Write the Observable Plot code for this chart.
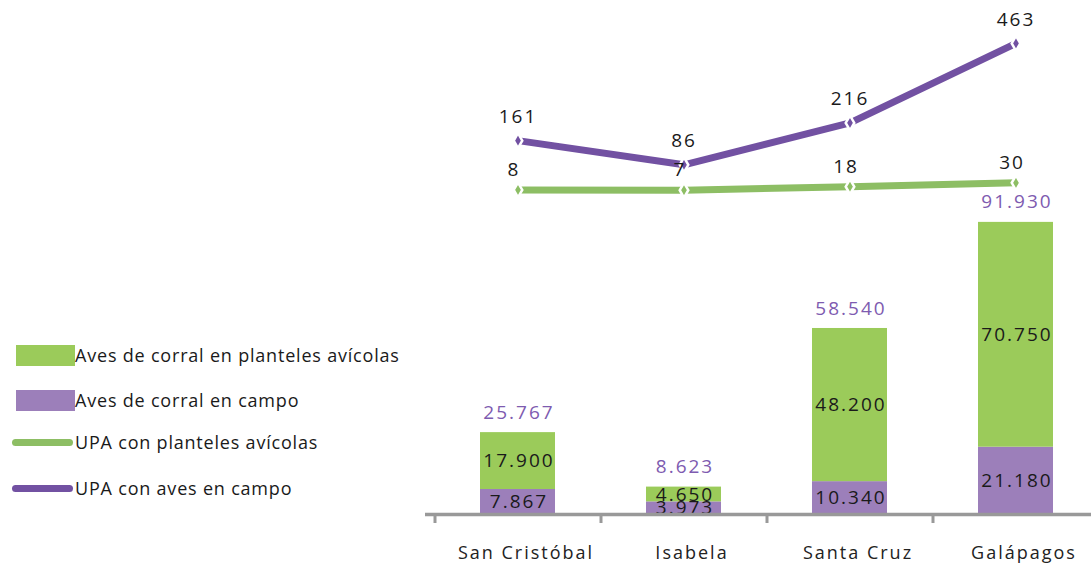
<!DOCTYPE html>
<html>
<head>
<meta charset="utf-8">
<script src="https://cdn.jsdelivr.net/npm/d3@7"></script>
<script src="https://cdn.jsdelivr.net/npm/@observablehq/plot@0.6"></script>
<style>
  html, body { margin: 0; padding: 0; background: #fff; }
  #wrap { position: relative; width: 1091px; height: 564px; font-family: "Open Sans", sans-serif; }
  #chart svg text { letter-spacing: 2px; }
  #legend { position: absolute; left: 0; top: 0; }
  .item { position: absolute; left: 0; height: 30px; display: flex; align-items: center; font-size: 18px; letter-spacing: 0.8px; color: #1a1a1a; white-space: nowrap; }
  .sw { display: inline-block; }
</style>
</head>
<body>
<div id="wrap"><div id="chart"></div><div id="legend"></div></div>
<script>
// ---- data ----
const categories = ["San Cristóbal", "Isabela", "Santa Cruz", "Galápagos"];
const avesCampo = [7867, 3973, 10340, 21180];
const avesPlanteles = [17900, 4650, 48200, 70750];
const totales = [25767, 8623, 58540, 91930];
const upaCampo = [161, 86, 216, 463];
const upaPlanteles = [8, 7, 18, 30];
const seriesNames = ["Aves de corral en campo", "Aves de corral en planteles avícolas", "UPA con planteles avícolas", "UPA con aves en campo"];

// ---- styles ----
const cGreenBar = "#9bcb5a", cPurpleBar = "#9c7fba";
const cGreenLine = "#8dbe64", cPurpleLine = "#7251a2", cTotal = "#7e5bb0";

const loc = d3.formatLocale({decimal: ",", thousands: ".", grouping: [3], currency: ["", ""]});
const fmt = loc.format(",d");

const stacked = [];
categories.forEach((c, i) => {
  stacked.push({cat: c, serie: seriesNames[0], value: avesCampo[i]});
  stacked.push({cat: c, serie: seriesNames[1], value: avesPlanteles[i]});
});
const tot = categories.map((c, i) => ({cat: c, value: totales[i]}));
// secondary axis (UPA) mapped onto primary units
const yMax = 152000;
const sec = d3.scaleLinear([-1000, 500], [0, yMax]);
const linesP = categories.map((c, i) => ({cat: c, v: upaPlanteles[i]}));
const linesC = categories.map((c, i) => ({cat: c, v: upaCampo[i]}));

const W = 1091, H = 564;
const chart = Plot.plot({
  width: W, height: H,
  marginLeft: 425, marginRight: 0, marginTop: 31, marginBottom: 50,
  style: {fontFamily: "'Open Sans', sans-serif", background: "transparent", overflow: "visible", letterSpacing: "2px"},
  x: {domain: categories, range: [433, 1099], paddingInner: 0.55, paddingOuter: 0.275, axis: null},
  y: {domain: [0, yMax], axis: null},
  color: {domain: seriesNames.slice(0, 2), range: [cPurpleBar, cGreenBar]},
  marks: [
    Plot.barY(stacked, {x: "cat", y: "value", fill: "serie", order: null}),
    Plot.text(stacked, Plot.stackY({x: "cat", y: "value", text: d => fmt(d.value), fill: "#1a1a1a", fontSize: 19, dx: 1, order: null})),
    Plot.text(tot, {x: "cat", y: "value", text: d => fmt(d.value), fill: cTotal, fontSize: 19, dx: 1, dy: -20}),
    Plot.ruleY([0], {stroke: "#999", strokeWidth: 3.5}),
    Plot.ruleX(categories, {x: d => d, y1: 0, y2: 0, insetBottom: -9, dx: -83, stroke: "#999", strokeWidth: 3}),
    Plot.text(categories, {x: d => d, y: 0, text: d => d, dy: 39, dx: 8, fontSize: 18, fill: "#222"}),
    Plot.line(linesP, {x: "cat", y: d => sec(d.v), stroke: cGreenLine, strokeWidth: 7}),
    Plot.line(linesC, {x: "cat", y: d => sec(d.v), stroke: cPurpleLine, strokeWidth: 7}),
    Plot.dot(linesP, {x: "cat", y: d => sec(d.v), symbol: "diamond", r: 4.5, fill: cGreenLine, stroke: "#fff", strokeWidth: 2.5}),
    Plot.dot(linesC, {x: "cat", y: d => sec(d.v), symbol: "diamond", r: 4.5, fill: cPurpleLine, stroke: "#fff", strokeWidth: 2.5}),
    Plot.text(linesP, {x: "cat", y: d => sec(d.v), text: d => fmt(d.v), dy: -20, dx: -4, fontSize: 19, fill: "#1a1a1a"}),
    Plot.text(linesC, {x: "cat", y: d => sec(d.v), text: d => fmt(d.v), dy: -24, fontSize: 19, fill: "#1a1a1a"})
  ]
});
document.getElementById("chart").appendChild(chart);

// ---- legend (left side) ----
const legend = document.getElementById("legend");
const items = [
  {name: seriesNames[1], kind: "rect", color: cGreenBar, cy: 355},
  {name: seriesNames[0], kind: "rect", color: cPurpleBar, cy: 400},
  {name: seriesNames[2], kind: "line", color: cGreenLine, cy: 442},
  {name: seriesNames[3], kind: "line", color: cPurpleLine, cy: 488}
];
items.forEach(it => {
  const row = document.createElement("div");
  row.className = "item";
  row.style.top = (it.cy - 15) + "px";
  const sw = document.createElement("span");
  sw.className = "sw";
  if (it.kind === "rect") {
    sw.style.cssText = `width:59px;height:21px;background:${it.color};margin-left:16px;`;
  } else {
    sw.style.cssText = `width:61px;height:7px;border-radius:4px;background:${it.color};margin-left:12px;margin-right:2px;`;
  }
  const tx = document.createElement("span");
  tx.textContent = it.name;
  row.appendChild(sw);
  row.appendChild(tx);
  legend.appendChild(row);
});
</script>
</body>
</html>
